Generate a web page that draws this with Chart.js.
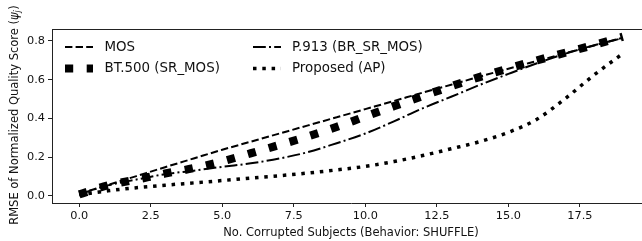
<!DOCTYPE html>
<html>
<head>
<meta charset="utf-8">
<script src="https://cdn.jsdelivr.net/npm/chart.js@4"></script>
<style>
  html, body { margin: 0; padding: 0; background: #fff; overflow: hidden; }
  #wrap { width: 650px; height: 241px; }
</style>
</head>
<body>
<div id="wrap"><canvas id="c" width="650" height="241"></canvas></div>
<script>
// ---- data ----
const xValues = [0,1,2,3,4,5,6,7,8,9,10,11,12,13,14,15,16,17,18,19];
const mos      = [0.010,0.056,0.102,0.148,0.193,0.238,0.280,0.322,0.364,0.406,0.448,0.490,0.533,0.574,0.616,0.657,0.697,0.737,0.777,0.817];
const bt500    = [0.008,0.054,0.084,0.115,0.143,0.178,0.220,0.263,0.307,0.356,0.410,0.463,0.515,0.566,0.614,0.658,0.700,0.740,0.780,0.822];
const p913     = [0.008,0.054,0.084,0.112,0.130,0.150,0.168,0.193,0.226,0.272,0.322,0.385,0.452,0.512,0.573,0.630,0.685,0.735,0.778,0.815];
const proposed = [0.005,0.026,0.042,0.055,0.067,0.079,0.092,0.104,0.118,0.134,0.152,0.177,0.208,0.243,0.280,0.328,0.396,0.504,0.625,0.735];
const seriesLabels = ['MOS','BT.500 (SR_MOS)','P.913 (BR_SR_MOS)','Proposed (AP)'];
const xTickValues = [0,2.5,5,7.5,10,12.5,15,17.5];
const yTickValues = [0,0.2,0.4,0.6,0.8];
const xTitle = 'No. Corrupted Subjects (Behavior: SHUFFLE)';
const yTitleMain = 'RMSE of Normalized Quality Score (';
const yTitleSym = 'ψ';
const yTitleSub = 'j';
const yTitleEnd = ')';

const FONT = "'DejaVu Sans', sans-serif";
const INK = '#111';

function pts(ys){ return xValues.map((x,i)=>({x:x, y:ys[i]})); }

const styles = [
  {borderWidth:2,   borderDash:[7.4,3.2]},
  {borderWidth:8.2, borderDash:[8.2,13.5]},
  {borderWidth:2,   borderDash:[12.8,3.2,2,3.2]},
  {borderWidth:3.5, borderDash:[3.5,5.8]}
];
const seriesData = [mos, bt500, p913, proposed];

const datasets = seriesData.map((d,i)=>({
  label: seriesLabels[i],
  data: pts(d),
  borderColor: '#000',
  backgroundColor: '#000',
  borderWidth: styles[i].borderWidth,
  borderDash: styles[i].borderDash,
  borderCapStyle: 'butt',
  pointRadius: 0,
  fill: false,
  cubicInterpolationMode: 'monotone',
  order: 3 - i,
  clip: 8
}));

const framePlugin = {
  id: 'frame',
  afterDraw(chart){
    const ctx = chart.ctx, a = chart.chartArea;
    ctx.save();
    // top spine
    ctx.strokeStyle = '#222'; ctx.lineWidth = 1; ctx.setLineDash([]);
    ctx.beginPath(); ctx.moveTo(a.left, Math.round(a.top)+0.5); ctx.lineTo(a.right, Math.round(a.top)+0.5); ctx.stroke();

    // legend
    const rows = [47, 68.5];
    const cols = [{s:65, e:93, t:104.5}, {s:253, e:281, t:292}];
    ctx.font = '13.4px ' + FONT;
    ctx.fillStyle = INK;
    ctx.textBaseline = 'middle';
    ctx.textAlign = 'left';
    datasets.forEach((ds,i)=>{
      const c = cols[Math.floor(i/2)], r = rows[i%2];
      ctx.save();
      ctx.strokeStyle = '#000';
      ctx.lineWidth = ds.borderWidth;
      ctx.setLineDash(ds.borderDash);
      ctx.lineCap = 'butt';
      ctx.beginPath(); ctx.moveTo(c.s, r); ctx.lineTo(c.e, r); ctx.stroke();
      ctx.restore();
      ctx.fillText(ds.label, c.t, r + 0.5);
    });

    // x title
    ctx.font = '11.5px ' + FONT;
    ctx.textAlign = 'center';
    ctx.textBaseline = 'alphabetic';
    ctx.fillText(xTitle, (a.left + a.right)/2, 235.5);

    // y title with italic psi and subscript j
    const fMain = '11.5px ' + FONT, fIt = 'italic 11.5px ' + FONT, fSub = 'italic 8px ' + FONT;
    ctx.font = fMain; const w1 = ctx.measureText(yTitleMain).width, w4 = ctx.measureText(yTitleEnd).width;
    ctx.font = fIt; const w2 = ctx.measureText(yTitleSym).width;
    ctx.font = fSub; const w3 = ctx.measureText(yTitleSub).width;
    const total = w1 + w2 + w3 + 0.5 + w4;
    ctx.translate(17.5, 115);
    ctx.rotate(-Math.PI/2);
    ctx.textAlign = 'left';
    let x = -total/2;
    ctx.font = fMain; ctx.fillText(yTitleMain, x, 0); x += w1;
    ctx.font = fIt; ctx.fillText(yTitleSym, x, 0); x += w2;
    ctx.font = fSub; ctx.fillText(yTitleSub, x, 2.2); x += w3 + 0.5;
    ctx.font = fMain; ctx.fillText(yTitleEnd, x, 0);
    ctx.restore();
  }
};

new Chart(document.getElementById('c'), {
  type: 'line',
  data: { datasets },
  options: {
    responsive: false,
    animation: false,
    devicePixelRatio: 1,
    layout: { padding: { top: 29, right: 0, left: 0, bottom: 0 } },
    plugins: { legend: { display: false }, tooltip: { enabled: false } },
    scales: {
      x: {
        type: 'linear',
        min: -0.95, max: 19.95,
        afterFit(s){ s.height = 38; },
        afterBuildTicks(s){ s.ticks = xTickValues.map(v=>({value:v})); },
        ticks: { color: INK, font: { family: FONT, size: 11.3 }, padding: 2.5, maxRotation: 0,
                 callback: v => v.toFixed(1) },
        grid: { display: true, drawOnChartArea: false, drawTicks: true, tickLength: 4, tickColor: '#222', tickWidth: 1 },
        border: { display: true, color: '#222', width: 1 }
      },
      y: {
        type: 'linear',
        min: -0.037, max: 0.862,
        afterFit(s){ s.width = 52; },
        afterBuildTicks(s){ s.ticks = yTickValues.map(v=>({value:v})); },
        ticks: { color: INK, font: { family: FONT, size: 11.3 }, padding: 3,
                 callback: v => v.toFixed(1) },
        grid: { display: true, drawOnChartArea: false, drawTicks: true, tickLength: 4, tickColor: '#222', tickWidth: 1 },
        border: { display: true, color: '#222', width: 1 }
      }
    }
  },
  plugins: [framePlugin]
});
</script>
</body>
</html>
